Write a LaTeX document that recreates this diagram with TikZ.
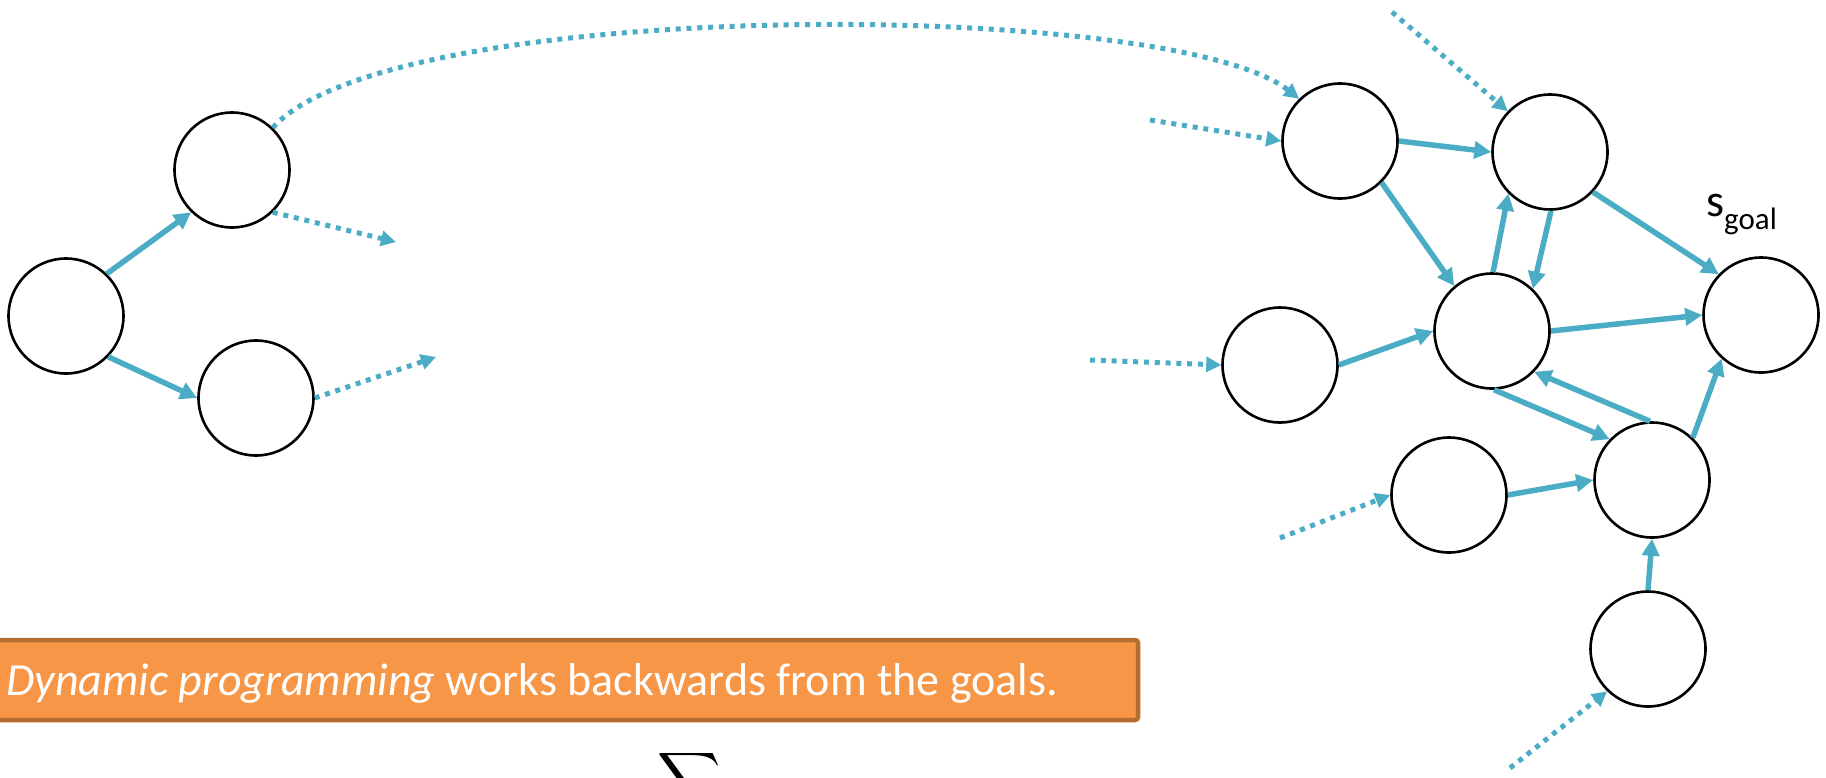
\documentclass[tikz,border=0pt]{standalone}
\usepackage{fontspec}
\setmainfont{Carlito}
\usetikzlibrary{arrows.meta}
\definecolor{ab}{HTML}{4BACC6}
\definecolor{ofill}{HTML}{F79646}
\definecolor{oline}{HTML}{B66D31}
\tikzset{
  st/.style={circle, draw=black, line width=2.6pt, minimum size=115pt, inner sep=0pt, fill=white},
  sol/.style={draw=ab, line width=5.5pt, -{Triangle[length=17pt,width=17pt]}},
  dotarrow/.style={draw=ab, line width=5pt, dash pattern=on 5pt off 5.8pt, -{Triangle[length=15pt,width=15pt]}},
}
\begin{document}
\begin{tikzpicture}[x=1pt,y=-1pt]
\useasboundingbox (0,0) rectangle (1826,777);
\clip (0,0) rectangle (1826,777);
% free ends
\coordinate (b1) at (396,242);
\coordinate (c1) at (436,357);
\coordinate (d0) at (1150,120);
\coordinate (e0) at (1392,12);
\coordinate (h0) at (1090,360);
\coordinate (j0) at (1280,538);
\coordinate (k0) at (1510,768);
% left group
\node[st] (A) at (66,316) {};
\node[st] (B) at (232,170) {};
\node[st] (C) at (256,398) {};
% right group
\node[st] (D) at (1340,141) {};
\node[st] (E) at (1550,152) {};
\node[st] (F) at (1492,331) {};
\node[st] (G) at (1761,315) {};
\node[st] (H) at (1280,365) {};
\node[st] (J) at (1449,495) {};
\node[st] (I) at (1652,480) {};
\node[st] (K) at (1648,649) {};
\node[anchor=base west, inner sep=0pt] (lbl) at (1706,216) {\fontsize{46}{50}\selectfont s\raisebox{-13pt}{\fontsize{31}{31}\selectfont goal}};
% solid arrows
\draw[sol] (A.46) -- (B.226);
\draw[sol] (A.-44) -- (C.180);
\draw[sol] (D.0) -- (E.180);
\draw[sol] (D.-45) -- (F.130);
\draw[sol] (F.89) -- (E.225);
\draw[sol] (E.-89) -- (F.46);
\draw[sol] (E.-43) -- (G.136);
\draw[sol] (F.0) -- (G.180);
\draw[sol] (H.0) -- (F.180);
\draw[sol] (F.-88) -- (I.136);
\draw[sol] (I.92) -- (F.-44);
\draw[sol] (I.46) -- (G.228);
\draw[sol] (J.0) -- (I.180);
\draw[sol] (K.90) -- (I.-90);
% dotted arrows
\draw[dotarrow] (B.-46) -- (b1);
\draw[dotarrow] (C.0) -- (c1);
\draw[dotarrow] (B.46) .. controls (390,-4) and (1170,-2) .. (D.134);
\draw[dotarrow] (d0) -- (D.180);
\draw[dotarrow] (e0) -- (E.136);
\draw[dotarrow] (h0) -- (H.180);
\draw[dotarrow] (j0) -- (J.180);
\draw[dotarrow] (k0) -- (K.226);
% message box
\path[fill=ofill, draw=oline, line width=4.5pt, rounded corners=3pt] (-20,640) rectangle (1138,720);
\node[anchor=base west, inner sep=0pt, text=white] (msg) at (6,695) {\fontsize{46}{55}\selectfont\textit{Dynamic programming} works backwards from the goals.};
% partial sum symbol
\node[anchor=north west, inner sep=0pt, scale=4.4] (sig) at (657,748) {$\displaystyle\sum$};
\end{tikzpicture}
\end{document}
